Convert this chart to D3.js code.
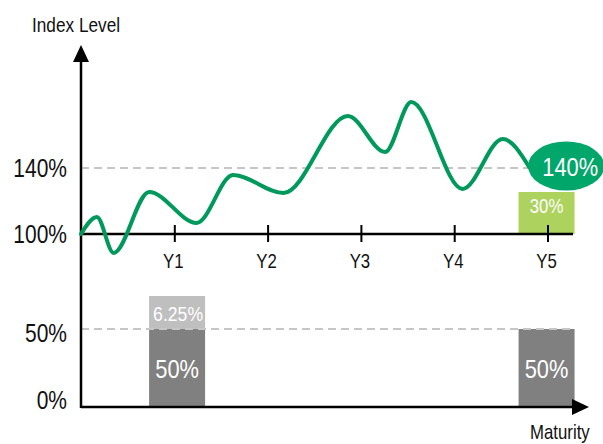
<!DOCTYPE html>
<html><head><meta charset="utf-8">
<script src="https://cdn.jsdelivr.net/npm/d3@7"></script>
<style>
html,body{margin:0;padding:0;background:#fff;}
svg{display:block;font-family:"Liberation Sans",Arial,sans-serif;}
</style></head>
<body><svg id="c" width="603" height="444"></svg>
<script>
// ---- data ----
const pathYears  = [0, 0.17, 0.35, 0.73, 1.24, 1.63, 2.17, 2.86, 3.26, 3.54, 4.09, 4.52, 4.81];
const pathLevels = [100, 110.3, 88.5, 125.5, 106.7, 135.8, 124.8, 171.5, 149.7, 180, 127.3, 157.6, 140];
const yearTicks  = [1, 2, 3, 4, 5];
const yearLabels = ["Y1", "Y2", "Y3", "Y4", "Y5"];
const upperTicks = [100, 140];
const upperTickLabels = ["100%", "140%"];
const lowerTicks = [0, 50];
const lowerTickLabels = ["0%", "50%"];
const redemptionYears = [1.03, 4.99];
const redemptionBase  = [50, 50];
const redemptionExtra = [6.25, 0];
const couponYear = 4.99;
const couponValue = 30;
const finalLevel = 140;

// ---- scales ----
const svg = d3.select("#c");
const x = d3.scaleLinear().domain([0, 5]).range([81, 547.5]);
const yU = d3.scaleLinear().domain([100, 140]).range([234, 168]);
const yL = d3.scaleLinear().domain([0, 50, 56.25]).range([407, 329, 296]);
const couponH = d3.scaleLinear().domain([0, 30]).range([0, 42]);
const barW = 56;
const SX = 0.84; // narrow-font compression

// text helper: condensed text drawn at (px,py)
function ntext(parent, px, py, str, size, anchor, fill) {
  return parent.append("text")
    .attr("transform", `translate(${px},${py}) scale(${SX},1)`)
    .attr("text-anchor", anchor || "start")
    .attr("font-size", size).attr("fill", fill || "#111").text(str);
}

// ---- lower bars ----
const bars = redemptionYears.map((t, i) => ({t, base: redemptionBase[i], extra: redemptionExtra[i]}));
svg.selectAll("rect.base").data(bars).join("rect")
  .attr("x", d => x(d.t) - barW/2).attr("width", barW)
  .attr("y", d => yL(d.base)).attr("height", d => yL(0) - yL(d.base))
  .attr("fill", "#808080");
svg.selectAll("rect.extra").data(bars.filter(d => d.extra > 0)).join("rect")
  .attr("x", d => x(d.t) - barW/2).attr("width", barW)
  .attr("y", d => yL(d.base + d.extra)).attr("height", d => yL(d.base) - yL(d.base + d.extra))
  .attr("fill", "#bfbfbf");

// coupon bar
svg.append("rect")
  .attr("x", x(couponYear) - barW/2).attr("width", barW)
  .attr("y", yU(100) - couponH(couponValue)).attr("height", couponH(couponValue))
  .attr("fill", "#add35e");

// ---- dashed gridlines ----
svg.append("line").attr("x1", x(0)).attr("x2", 530).attr("y1", yU(140)).attr("y2", yU(140))
  .attr("stroke", "#c6c6c6").attr("stroke-width", 2).attr("stroke-dasharray", "8,5");
svg.append("line").attr("x1", x(0)).attr("x2", x(4.99) + barW/2).attr("y1", yL(50)).attr("y2", yL(50))
  .attr("stroke", "#c6c6c6").attr("stroke-width", 2).attr("stroke-dasharray", "8,5");

// ---- axes ----
const ax = svg.append("g").attr("stroke", "#000").attr("stroke-width", 2.5);
ax.append("line").attr("x1", x(0)).attr("x2", x(0)).attr("y1", 60).attr("y2", yL(0) + 1);
ax.append("line").attr("x1", x(0)).attr("x2", 574).attr("y1", yL(0)).attr("y2", yL(0));
ax.append("line").attr("x1", x(0)).attr("x2", 573).attr("y1", yU(100)).attr("y2", yU(100));
svg.append("path").attr("d", `M${x(0)},45 L${x(0)-8},62 L${x(0)+8},62 Z`).attr("fill", "#000");
svg.append("path").attr("d", `M589,${yL(0)} L572,${yL(0)-8} L572,${yL(0)+8} Z`).attr("fill", "#000");

// year ticks on the 100% axis
const xAxis = d3.axisBottom(x).tickValues(yearTicks).tickFormat("").tickSize(0);
const xg = svg.append("g").attr("transform", `translate(0,${yU(100)})`).call(xAxis);
xg.select(".domain").remove();
xg.selectAll(".tick line").attr("y1", -9).attr("y2", 8).attr("stroke", "#000").attr("stroke-width", 2);
yearTicks.forEach((t, i) => ntext(svg, x(t) - 1, yU(100) + 34, yearLabels[i], 20, "middle"));

// upper & lower y labels
upperTicks.forEach((v, i) => ntext(svg, 67, yU(v) + 9, upperTickLabels[i], 25, "end"));
lowerTicks.forEach((v, i) => ntext(svg, 67, yL(v) + (v === 0 ? 2 : 13), lowerTickLabels[i], 25, "end"));

// ---- index path ----
const pts = pathYears.map((t, i) => [t, pathLevels[i]]);
const line = d3.line().x(d => x(d[0])).y(d => yU(d[1])).curve(d3.curveMonotoneX);
svg.append("path").attr("d", line(pts)).attr("fill", "none")
  .attr("stroke", "#00995c").attr("stroke-width", 4).attr("stroke-linecap", "round");

// final level bubble
const ex = x(5.2), ey = yU(finalLevel) - 2;
svg.append("ellipse").attr("cx", ex).attr("cy", ey).attr("rx", 38).attr("ry", 24.5).attr("fill", "#00a66a");
ntext(svg, ex + 4, ey + 10, finalLevel + "%", 26, "middle", "#fff");

// bar labels
ntext(svg, x(couponYear), yU(100) - 21, couponValue + "%", 20, "middle", "#fff");
bars.forEach(d => {
  ntext(svg, x(d.t), (yL(0) + yL(d.base)) / 2 + 10, d.base + "%", 26, "middle", "#fff");
  if (d.extra > 0)
    ntext(svg, x(d.t) + 1, (yL(d.base) + yL(d.base + d.extra)) / 2 + 8, d.extra + "%", 21, "middle", "#fff");
});

// axis titles
ntext(svg, 32, 32, "Index Level", 20.5, "start");
ntext(svg, 530, 439, "Maturity", 20, "start");
</script></body></html>
